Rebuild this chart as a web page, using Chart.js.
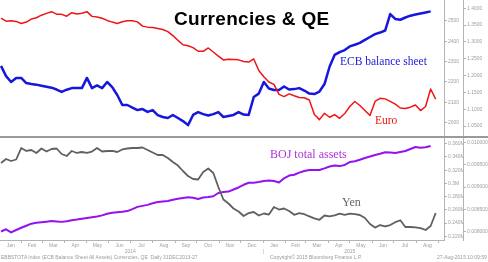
<!DOCTYPE html>
<html>
<head>
<meta charset="utf-8">
<script src="https://cdn.jsdelivr.net/npm/chart.js@4.4.1/dist/chart.umd.min.js"></script>
<style>
  html, body { margin: 0; padding: 0; background: #fff; }
  #wrap { position: relative; width: 488px; height: 262px; overflow: hidden; font-family: "Liberation Sans", Arial, sans-serif; }
  canvas { position: absolute; left: 0; }
  #topCanvas { top: 0; }
  #botCanvas { top: 138px; }
  #divider { position: absolute; left: 0; top: 136px; width: 488px; height: 2px; background: #9a9a9a; }
  #title { position: absolute; left: 174px; top: 9px; font: bold 19px "Liberation Sans", Arial, sans-serif; line-height: 1; color: #000; white-space: nowrap; letter-spacing: 0.3px; }
  .lbl { position: absolute; white-space: nowrap; line-height: 1; font-family: "Liberation Serif", "Times New Roman", serif; }
  .foot { position: absolute; top: 255px; font-size: 5px; line-height: 1; color: #9a9a9a; white-space: nowrap; }
</style>
</head>
<body>
<div id="wrap">
  <canvas id="topCanvas" width="488" height="136"></canvas>
  <div id="divider"></div>
  <canvas id="botCanvas" width="488" height="124"></canvas>
  <div id="title">Currencies &amp; QE</div>
  <div class="lbl" style="left:340px;top:56px;font-size:11.5px;color:#1a1adc;">ECB balance sheet</div>
  <div class="lbl" style="left:375px;top:115px;font-size:11.5px;color:#ee1111;">Euro</div>
  <div class="lbl" style="left:270px;top:148px;font-size:12px;color:#b030d8;">BOJ total assets</div>
  <div class="lbl" style="left:342px;top:196px;font-size:12px;color:#666;">Yen</div>
  <div class="foot" style="left:1px;">EBBSTOTA Index (ECB Balance Sheet All Assets) Currencies, QE&nbsp; Daily 31DEC2013-27</div>
  <div class="foot" style="left:270px;">Copyright&copy; 2015 Bloomberg Finance L.P.</div>
  <div class="foot" style="left:437px;">27-Aug-2015 10:09:59</div>
</div>
<script>
// weekly readings, first one on 3 Jan 2014 (day 2 counting from 1 Jan 2014)
var startDay = 2;

var euroValues = [1.3708, 1.3618, 1.3633, 1.3610, 1.3548, 1.3590, 1.3680, 1.3720, 1.3795, 1.3850,
  1.3900, 1.3825, 1.3820, 1.3765, 1.3870, 1.3830, 1.3855, 1.3900, 1.3760, 1.3740,
  1.3705, 1.3640, 1.3590, 1.3550, 1.3600, 1.3627, 1.3630, 1.3596, 1.3470, 1.3440,
  1.3428, 1.3400, 1.3370, 1.3307, 1.3187, 1.3048, 1.2916, 1.2886, 1.2831, 1.2723,
  1.2720, 1.2820, 1.2700, 1.2580, 1.2464, 1.2488, 1.2480, 1.2467, 1.2420, 1.2400,
  1.2494, 1.2150, 1.1964, 1.1810, 1.1740, 1.1440, 1.1374, 1.1455, 1.1400, 1.1350,
  1.1340, 1.1275, 1.0840, 1.0690, 1.0880, 1.0760, 1.0840, 1.0730, 1.0870, 1.1080,
  1.1230, 1.1110, 1.0960, 1.0810, 1.1230, 1.1325, 1.1307, 1.1232, 1.1150, 1.1036,
  1.1020, 1.1060, 1.1124, 1.0960, 1.1080, 1.1600, 1.1300];

var ecbValues = [2279, 2229, 2200, 2220, 2220, 2195, 2190, 2187, 2182, 2177,
  2172, 2163, 2151, 2162, 2170, 2170, 2170, 2220, 2170, 2183,
  2170, 2200, 2175, 2136, 2087, 2087, 2074, 2062, 2067, 2053,
  2062, 2037, 2028, 2023, 2038, 2023, 2008, 1988, 2038, 2052,
  2042, 2035, 2042, 2052, 2028, 2033, 2038, 2052, 2040, 2038,
  2126, 2143, 2200, 2168, 2161, 2161, 2178, 2163, 2165, 2170,
  2158, 2143, 2141, 2153, 2190, 2275, 2333, 2347, 2357, 2375,
  2383, 2392, 2407, 2421, 2435, 2443, 2453, 2534, 2510, 2506,
  2517, 2526, 2532, 2537, 2542, 2547];

var yenValues = [0.009542, 0.009632, 0.009587, 0.009621, 0.009880, 0.009813, 0.009835, 0.009768, 0.009869, 0.009801,
  0.009858, 0.009869, 0.009745, 0.009700, 0.009813, 0.009768, 0.009790, 0.009772, 0.009801, 0.009880,
  0.009801, 0.009813, 0.009813, 0.009790, 0.009847, 0.009869, 0.009880, 0.009880, 0.009892, 0.009835,
  0.009779, 0.009722, 0.009722, 0.009655, 0.009564, 0.009485, 0.009361, 0.009248, 0.009181, 0.009169,
  0.009339, 0.009418, 0.009316, 0.009000, 0.008718, 0.008628, 0.008515, 0.008447, 0.008346, 0.008413,
  0.008436, 0.008357, 0.008402, 0.008379, 0.008549, 0.008492, 0.008515, 0.008458, 0.008373, 0.008409,
  0.008386, 0.008339, 0.008294, 0.008260, 0.008357, 0.008339, 0.008359, 0.008400, 0.008370, 0.008400,
  0.008386, 0.008368, 0.008300, 0.008165, 0.008084, 0.008142, 0.008109, 0.008142, 0.008206, 0.008249,
  0.008097, 0.008097, 0.008088, 0.008073, 0.008030, 0.008120, 0.008413];

var bojValues = [0.2273, 0.2306, 0.2258, 0.2295, 0.2329, 0.2360, 0.2391, 0.2406, 0.2413, 0.2421,
  0.2430, 0.2425, 0.2418, 0.2428, 0.2444, 0.2453, 0.2465, 0.2477, 0.2489, 0.2499,
  0.2516, 0.2540, 0.2555, 0.2563, 0.2571, 0.2581, 0.2610, 0.2645, 0.2660, 0.2675,
  0.2699, 0.2717, 0.2726, 0.2735, 0.2752, 0.2767, 0.2778, 0.2790, 0.2782, 0.2764,
  0.2787, 0.2794, 0.2805, 0.2855, 0.2870, 0.2876, 0.2908, 0.2938, 0.2979, 0.3009,
  0.3009, 0.3021, 0.3036, 0.3045, 0.3036, 0.3013, 0.3077, 0.3119, 0.3131, 0.3162,
  0.3186, 0.3202, 0.3202, 0.3202, 0.3227, 0.3255, 0.3270, 0.3261, 0.3278, 0.3322,
  0.3334, 0.3357, 0.3384, 0.3407, 0.3429, 0.3447, 0.3470, 0.3468, 0.3459, 0.3475,
  0.3490, 0.3520, 0.3550, 0.3538, 0.3547, 0.3565];

// tick labels
var monthNames = ['Jan', 'Feb', 'Mar', 'Apr', 'May', 'Jun', 'Jul', 'Aug', 'Sep', 'Oct', 'Nov', 'Dec',
  'Jan', 'Feb', 'Mar', 'Apr', 'May', 'Jun', 'Jul', 'Aug'];
var monthStarts = [0, 31, 59, 90, 120, 151, 181, 212, 243, 273, 304, 334, 365, 396, 424, 455, 485, 516, 546, 577, 608];
var yearMarks = { 181: '2014', 365: '|', 485: '2015' };
var ecbTicks = [2000, 2100, 2200, 2300, 2400, 2500];
var euroTicks = [1.05, 1.10, 1.15, 1.20, 1.25, 1.30, 1.35, 1.40];
var bojTicks = [0.22, 0.24, 0.26, 0.28, 0.30, 0.32, 0.34, 0.36];
var bojTickLabels = ['0.220M', '0.240M', '0.260M', '0.280M', '0.3M', '0.320M', '0.340M', '0.360M'];
var yenTicks = [0.008, 0.0085, 0.009, 0.0095, 0.010];

var xMin = 0.6, xMax = 615.5;
var axisGrey = '#b4b4b4';
var tickFont = { size: 5, family: 'Liberation Sans' };

function toPoints(vals) {
  return vals.map(function (v, i) { return { x: startDay + 7 * i, y: v }; });
}

function rightAxis(min, max, vals, labelFn, width) {
  return {
    position: 'right',
    min: min,
    max: max,
    afterBuildTicks: function (scale) {
      scale.ticks = vals.map(function (v) { return { value: v }; });
    },
    afterFit: function (scale) {
      scale.width = width;
      scale.paddingTop = 0;
      scale.paddingBottom = 0;
    },
    border: { display: true, color: axisGrey, width: 1 },
    grid: { drawOnChartArea: false, drawTicks: true, tickLength: 3, color: axisGrey },
    ticks: { color: '#a0a0a0', font: tickFont, padding: 1, autoSkip: false, callback: labelFn }
  };
}

// month ticks: boundaries carry tick marks (and year), centres carry the month name
var xTicks = [];
monthStarts.forEach(function (d, i) {
  xTicks.push({ value: d, label: ['', yearMarks[d] || ''], edge: true });
  if (i < monthNames.length) {
    xTicks.push({ value: (d + monthStarts[i + 1]) / 2, label: monthNames[i], edge: false });
  }
});

function line(data, color, width, axisId) {
  return {
    data: data,
    borderColor: color,
    borderWidth: width,
    pointRadius: 0,
    tension: 0,
    borderJoinStyle: 'round',
    yAxisID: axisId
  };
}

var commonOpts = {
  responsive: false,
  animation: false,
  devicePixelRatio: 1,
  layout: { padding: 0 },
  plugins: { legend: { display: false }, tooltip: { enabled: false } }
};

new Chart(document.getElementById('topCanvas').getContext('2d'), {
  type: 'line',
  data: {
    datasets: [
      line(toPoints(euroValues), '#f01414', 1.5, 'yEur'),
      line(toPoints(ecbValues), '#1616dc', 2.5, 'yEcb')
    ]
  },
  options: Object.assign({}, commonOpts, {
    scales: {
      x: { type: 'linear', min: xMin, max: xMax, display: false },
      yEcb: rightAxis(1934.6, 2603, ecbTicks, function (v) { return String(v); }, 19),
      yEur: rightAxis(1.0203, 1.4247, euroTicks, function (v) { return v.toFixed(4); }, 25)
    }
  })
});

new Chart(document.getElementById('botCanvas').getContext('2d'), {
  type: 'line',
  data: {
    datasets: [
      line(toPoints(yenValues), '#606060', 1.8, 'yYen'),
      line(toPoints(bojValues), '#9412f0', 2, 'yBoj')
    ]
  },
  options: Object.assign({}, commonOpts, {
    scales: {
      x: {
        type: 'linear',
        min: xMin,
        max: xMax,
        position: 'bottom',
        afterBuildTicks: function (scale) {
          scale.ticks = xTicks.map(function (t) { return { value: t.value }; });
        },
        afterFit: function (scale) {
          scale.height = 22;
          scale.paddingLeft = 0;
          scale.paddingRight = 0;
        },
        border: { display: true, color: axisGrey, width: 1 },
        grid: {
          drawOnChartArea: false,
          drawTicks: true,
          tickLength: 3,
          color: function (ctx) {
            return ctx.tick && monthStarts.indexOf(ctx.tick.value) >= 0 ? axisGrey : 'rgba(0,0,0,0)';
          }
        },
        ticks: {
          color: '#a0a0a0',
          font: { size: 5, family: 'Liberation Sans', lineHeight: 1.2 },
          padding: 0,
          autoSkip: false,
          maxRotation: 0,
          callback: function (v, i) { return xTicks[i] ? xTicks[i].label : ''; }
        }
      },
      yBoj: rightAxis(0.2144, 0.3686, bojTicks, function (v, i) { return bojTickLabels[i]; }, 19),
      yYen: rightAxis(0.007804, 0.010106, yenTicks, function (v) { return v.toFixed(6); }, 25)
    }
  })
});
</script>
</body>
</html>
